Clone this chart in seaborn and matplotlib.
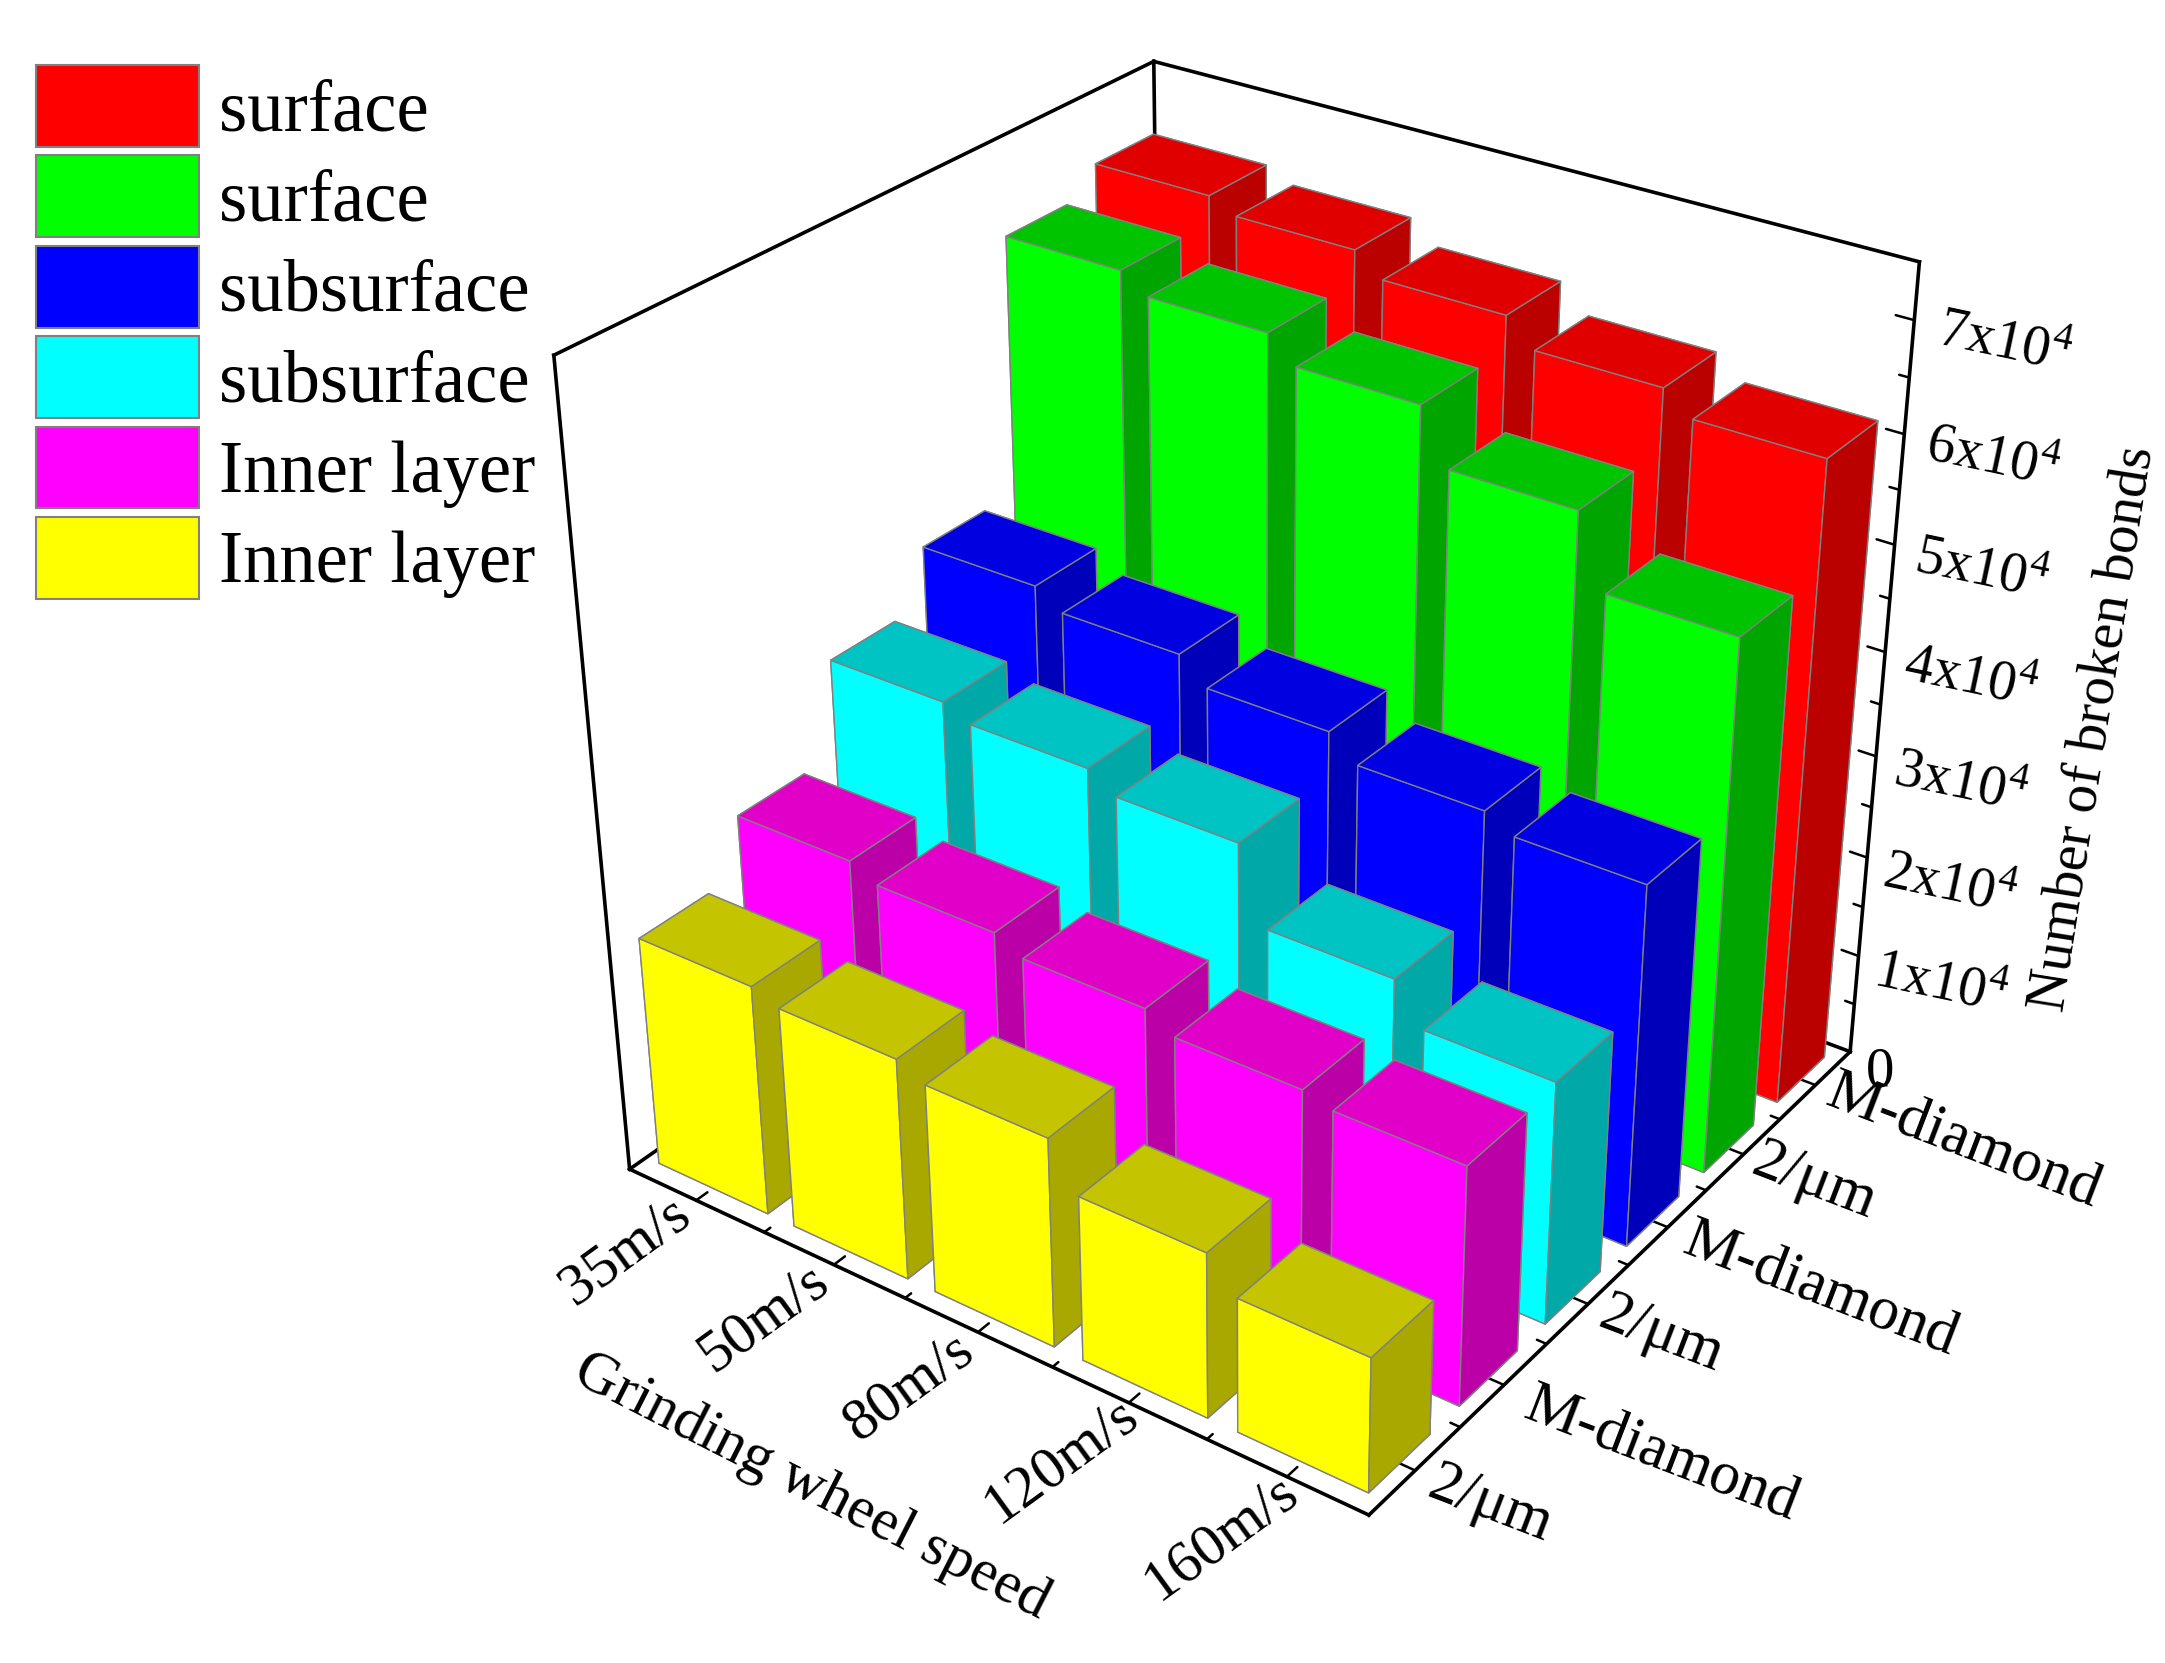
import numpy as np
import matplotlib
matplotlib.use("Agg")
import matplotlib.pyplot as plt
from matplotlib.patches import Patch
from mpl_toolkits.mplot3d import proj3d
import seaborn as sns

sns.set_theme(style="white")
plt.rcParams["font.family"] = ["Liberation Serif", "DejaVu Serif"]
plt.rcParams["mathtext.fontset"] = "custom"
plt.rcParams["mathtext.rm"] = "Liberation Serif"

speeds = ["35m/s", "50m/s", "80m/s", "120m/s", "160m/s"]
sizes = ["2/μm", "M-diamond", "2/μm", "M-diamond", "2/μm", "M-diamond"]
layers = ["surface", "surface", "subsurface", "subsurface", "Inner layer", "Inner layer"]

# values per row, back row first (same order as legend)
red = [6.92, 6.8, 6.6, 6.36, 6.16]
green = [6.68, 6.51, 6.28, 5.78, 5.12]
blue = [4.25, 4.08, 3.85, 3.63, 3.49]
cyan = [3.71, 3.59, 3.42, 2.71, 2.34]
magenta = [2.8, 2.67, 2.53, 2.37, 2.29]
yellow = [2.25, 2.15, 2.02, 1.59, 1.29]
rows = [red, green, blue, cyan, magenta, yellow]

front = ["#ff0000", "#00ff00", "#0000ff", "#00ffff", "#ff00ff", "#ffff00"]
top = ["#e00000", "#00c400", "#0000e0", "#00c4c4", "#e000c8", "#c4c400"]
side = ["#bb0000", "#00a500", "#0000bb", "#00a8a8", "#bb00a8", "#a8a800"]
edge = "#808080"

palette = sns.color_palette(front)
W, H = 2165, 1663
size_px = 1552.7

fig = plt.figure(figsize=(W / 100, H / 100), dpi=100)
ax = fig.add_axes([455.5 / W, 134.9 / H, size_px / W, size_px / H], projection="3d")
ax.computed_zorder = False
ax.set_proj_type("persp", focal_length=0.4917)
ax.view_init(elev=30.06, azim=-54.42)
ax.set_box_aspect((1, 1, 1))
ax.set_xlim(0, 5)
ax.set_ylim(0, 6)
ax.set_zlim(0, 7.5e4)
ax.set_axis_off()


def label(x, y, z, s, **kw):
    # Text3D ignores rotation, so project the point and put a plain text there
    u, v, _ = proj3d.proj_transform(x, y, z, ax.get_proj())
    ax.text2D(u, v, s, transform=ax.transData, ha="center", va="center", rotation_mode="anchor",
              color="black", **kw)


# frame
lw = 2.6
zmax = 7.5e4
frame = [
    ([0, 5], [0, 0], [0, 0]), ([5, 5], [0, 6], [0, 0]), ([0, 0], [0, 6], [0, 0]), ([0, 5], [6, 6], [0, 0]),
    ([0, 0], [0, 0], [0, zmax]), ([5, 5], [6, 6], [0, zmax]), ([0, 0], [6, 6], [0, zmax]),
    ([0, 0], [0, 6], [zmax, zmax]), ([0, 5], [6, 6], [zmax, zmax]),
]
for fx, fy, fz in frame:
    ax.plot(fx, fy, fz, color="black", lw=lw, zorder=1, solid_capstyle="projecting")

# ticks
for i in range(1, 10):
    ln = 0.11 if i % 2 else 0.06
    ax.plot([i / 2, i / 2], [0, ln], [0, 0], color="black", lw=1.8, zorder=1)
for i in range(1, 12):
    ln = 0.11 if i % 2 else 0.06
    ax.plot([5, 5 - ln], [i / 2, i / 2], [0, 0], color="black", lw=1.8, zorder=1)
for i in range(1, 15):
    ln = 0.11 if i % 2 == 0 else 0.06
    ax.plot([5, 5 - ln], [6, 6], [i * 5e3, i * 5e3], color="black", lw=1.8, zorder=1)

# bars, painted from the back row to the front
dx, dy = 0.81, 0.67
order = 2
for r, vals in enumerate(rows):
    y0 = 5 - r + (1 - dy) / 2
    for i, v in enumerate(vals):
        colors = [front[r], top[r], front[r], front[r], side[r], side[r]]
        ax.bar3d(i + (1 - dx) / 2, y0, 0, dx, dy, v * 1e4, color=colors, shade=False,
                 edgecolor=edge, linewidth=1, zorder=order)
        order += 1

# labels
for i, s in enumerate(speeds):
    label(i + 0.5, -0.68, 0, s, fontsize=43, rotation=36)
for i, s in enumerate(sizes):
    off = 0.95 if s == "M-diamond" else 0.45
    label(5 + off, i + 0.5, 0, s, fontsize=44, rotation=-21)
label(5.2, 6, -1e3, "0", fontsize=41)
for k in range(1, 8):
    label(5.52, 6, k * 1e4, f"{k}x10$^{{4}}$", fontsize=40.5, rotation=-12)
label(2.6, -1.75, 0, "Grinding wheel speed", fontsize=43, rotation=-27)
label(6.26, 6, 3.9e4, "Number of broken bonds", fontsize=41, rotation=81)

handles = [Patch(facecolor=c, edgecolor=edge, linewidth=1.5) for c in palette]
fig.legend(handles, layers, loc="upper left", bbox_to_anchor=(36 / W, 1 - 65 / H), bbox_transform=fig.transFigure,
           frameon=False, fontsize=52.3, borderpad=0, borderaxespad=0, handlelength=2.25, handleheight=1.354,
           labelspacing=0.12, handletextpad=0.27, labelcolor="black")

fig.savefig("out.png", dpi=100, facecolor="white")
